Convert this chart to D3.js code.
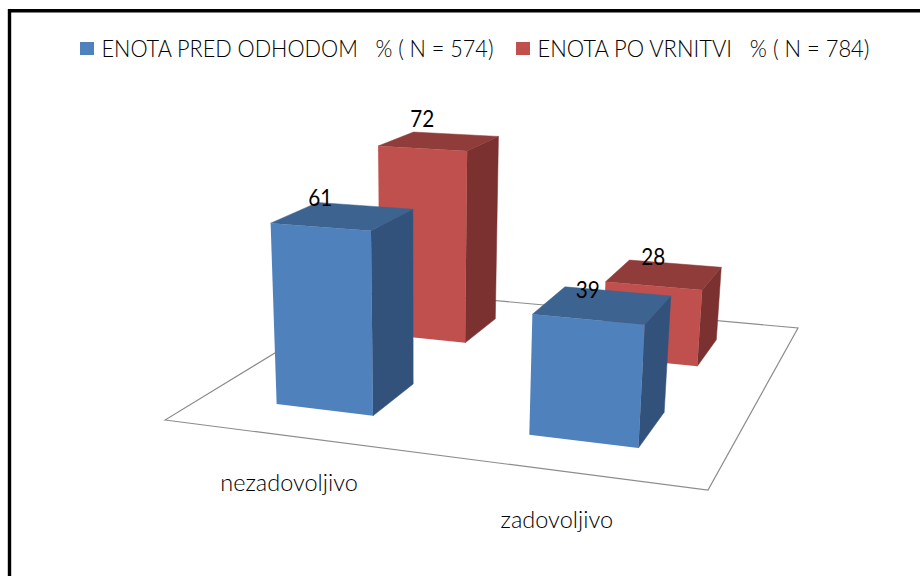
<!DOCTYPE html>
<html>
<head>
<meta charset="utf-8">
<script src="https://cdn.jsdelivr.net/npm/d3@7"></script>
<style>
  html, body { margin: 0; padding: 0; background: #fff; }
  svg { display: block; }
  text { font-family: Lato, "Open Sans", sans-serif; fill: #000; }
</style>
</head>
<body>
<svg id="chart" width="920" height="576"></svg>
<script>
var categories = ["nezadovoljivo", "zadovoljivo"];
var seriesNames = ["ENOTA PRED ODHODOM   % ( N = 574)", "ENOTA PO VRNITVI   % ( N = 784)"];
var before = [61, 39];
var after = [72, 28];

var width = 920, height = 576;
var svg = d3.select("#chart");

// frame, only top and left are inside the picture
svg.append("path")
    .attr("d", "M9.5,576V10.8H920")
    .attr("fill", "none")
    .attr("stroke", "#000")
    .attr("stroke-width", 3.4);

// floor coordinates: u along categories, v going back through the series
var u = d3.scaleBand().domain(categories).range([0.003, 0.999]).paddingInner(0.604).paddingOuter(0.3);
var v = d3.scaleBand().domain(seriesNames).range([0, 1]).paddingInner(0.6).paddingOuter(0.3);
var h = d3.scaleLinear().domain([0, 100]).range([0, 1]);
var uLabel = d3.scalePoint().domain(categories).range([0.353, 0.808]);

// camera, fitted on the floor corners and the bar edges
var cam = [
    [456.15, 333.64, -28.64, 165],
    [9.9, -37.45, -320.5, 420],
    [-0.12267, 0.31914, -0.0682, 1]
];
function project(a, b, c) {
    var w = cam[2][0] * a + cam[2][1] * b + cam[2][2] * c + cam[2][3];
    return [
        (cam[0][0] * a + cam[0][1] * b + cam[0][2] * c + cam[0][3]) / w,
        (cam[1][0] * a + cam[1][1] * b + cam[1][2] * c + cam[1][3]) / w
    ];
}
var line = d3.line().curve(d3.curveLinearClosed);

// floor
svg.append("path")
    .attr("d", line([project(0, 0, 0), project(1, 0, 0), project(1, 1, 0), project(0, 1, 0)]))
    .attr("fill", "#fff")
    .attr("stroke", "#8c8c8c")
    .attr("stroke-width", 1.2);

var colors = [
    { front: "#4f81bd", side: "#32527b", top: "#3d6390" },
    { front: "#c0504d", side: "#7b3130", top: "#8f3c3a" }
];
var values = [before, after];

// back series first so the front one covers it
[1, 0].forEach(function(s) {
    var name = seriesNames[s];
    categories.forEach(function(cat, i) {
        var val = values[s][i];
        var u0 = u(cat), u1 = u(cat) + u.bandwidth();
        var v0 = v(name), v1 = v(name) + v.bandwidth();
        var t = h(val);

        svg.append("path")
            .attr("d", line([project(u1, v0, 0), project(u1, v1, 0), project(u1, v1, t), project(u1, v0, t)]))
            .attr("fill", colors[s].side)
            .attr("stroke", colors[s].side)
            .attr("stroke-width", 0.5);
        svg.append("path")
            .attr("d", line([project(u0, v0, t), project(u1, v0, t), project(u1, v1, t), project(u0, v1, t)]))
            .attr("fill", colors[s].top)
            .attr("stroke", colors[s].top)
            .attr("stroke-width", 0.5);
        svg.append("path")
            .attr("d", line([project(u0, v0, 0), project(u1, v0, 0), project(u1, v0, t), project(u0, v0, t)]))
            .attr("fill", colors[s].front);

        var p = project((u0 + u1) / 2, v0, t);
        svg.append("text")
            .attr("x", p[0])
            .attr("y", p[1] - 21)
            .attr("text-anchor", "middle")
            .attr("textLength", 24)
            .attr("lengthAdjust", "spacingAndGlyphs")
            .style("font-size", "24px")
            .text(val);
    });
});

// category labels
categories.forEach(function(cat) {
    var p = project(uLabel(cat), -0.205, 0);
    svg.append("text")
        .attr("x", p[0])
        .attr("y", p[1] + 7)
        .attr("text-anchor", "middle")
        .style("font-size", "23.5px")
        .style("font-weight", 300)
        .text(cat);
});

// legend
var legendX = d3.scaleOrdinal().domain(seriesNames).range([80, 516]);
var legendLen = d3.scaleOrdinal().domain(seriesNames).range([392, 332]);
seriesNames.forEach(function(name, s) {
    svg.append("rect")
        .attr("x", legendX(name))
        .attr("y", 42)
        .attr("width", 14)
        .attr("height", 13)
        .attr("fill", colors[s].front);
    svg.append("text")
        .attr("x", legendX(name) + 21.5)
        .attr("y", 57)
        .attr("textLength", legendLen(name))
        .attr("lengthAdjust", "spacingAndGlyphs")
        .attr("xml:space", "preserve")
        .style("white-space", "pre")
        .style("font-size", "23px")
        .style("font-weight", 300)
        .text(name);
});
</script>
</body>
</html>
